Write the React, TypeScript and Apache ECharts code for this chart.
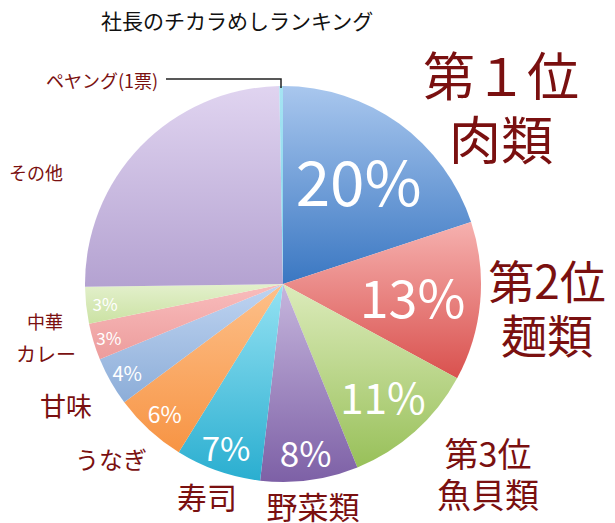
import React, { useEffect, useRef } from "react";
import * as echarts from "echarts";

// ---- data ----
const title = "社長のチカラめしランキング";
const categories = ["肉類", "麺類", "魚貝類", "野菜類", "寿司", "うなぎ", "甘味", "カレー", "中華", "その他", "ペヤング(1票)"];
const shares = [20, 13, 11, 8, 7, 6, 4, 3, 3, 25, 0.3];
const percentShown = [true, true, true, true, true, true, true, true, true, false, false];
const rankLabels = ["第１位", "第2位", "第3位"];

// ---- styles ----
const colorTop = ["#a9c7ee", "#f6b1af", "#dcebbb", "#c6b6dd", "#95e2f3", "#fdc08a", "#bfd4f1", "#f9bdbd", "#e3f0cc", "#e0d4f0", "#a6e4f3"];
const colorBottom = ["#3a77c2", "#d9514e", "#98c059", "#7d60a6", "#2aaed0", "#f79444", "#8cadd8", "#ec9c9c", "#cbe2a3", "#b4a2d1", "#7fd3ea"];
const pctDist = [126, 127, 147, 166, 170, 172, 176, 179, 176];
const pctFont = [62, 52, 42, 35, 33, 23, 20, 17, 17];
const namePos = [
  [501, 105], [547, 306], [488, 473], [313, 505], [207, 496], [111, 458],
  [66, 404], [46, 353], [45, 321], [36, 172], [102, 80],
];
const nameFont = [52, 46, 34, 31, 30, 24, 26, 20, 18, 18, 18];
const nameLineHeight = [64, 54, 41, 34, 34, 28, 30, 24, 22, 22, 22];

const CX = 283;
const CY = 284;
const R = 198;
const FONT = "'Noto Sans CJK JP', 'Noto Sans', sans-serif";
const LABEL_COLOR = "#7a1010";

export default function App() {
  const ref = useRef<HTMLDivElement>(null);

  useEffect(() => {
    if (!ref.current) return;
    const chart = echarts.init(ref.current, undefined, { renderer: "svg" });

    const mainData = categories.map((name, i) => ({
      name,
      value: shares[i],
      itemStyle: {
        color: new echarts.graphic.LinearGradient(0, 0, 0, 1, [
          { offset: 0, color: colorTop[i] },
          { offset: 1, color: colorBottom[i] },
        ]),
      },
      label: { fontSize: nameFont[i], lineHeight: nameLineHeight[i] },
    }));

    const ghostSeries = pctDist.map((d, k) => ({
      type: "pie",
      center: [CX, CY],
      radius: [0, d * 2],
      startAngle: 90,
      clockwise: true,
      silent: true,
      animation: false,
      avoidLabelOverlap: false,
      itemStyle: { color: "rgba(0,0,0,0)" },
      labelLine: { show: false },
      emphasis: { disabled: true },
      data: categories.map((name, i) => ({
        name,
        value: shares[i],
        label: {
          show: i === k && percentShown[i],
          position: "inside",
          formatter: `${shares[i]}%`,
          color: "#ffffff",
          fontSize: pctFont[k],
          fontFamily: FONT,
          fontWeight: "normal",
        },
      })),
    }));

    chart.setOption({
      animation: false,
      title: {
        text: title,
        left: 96,
        top: 4,
        textStyle: { fontSize: 21, fontWeight: "normal", color: "#111", fontFamily: FONT },
      },
      graphic: [
        {
          type: "polyline",
          shape: { points: [[166, 79], [281, 79], [281, 88]] },
          style: { stroke: "#222", lineWidth: 1.5, fill: "none" },
          z: 10,
        },
      ],
      series: [
        {
          type: "pie",
          center: [CX, CY],
          radius: R,
          startAngle: 90,
          clockwise: true,
          avoidLabelOverlap: false,
          emphasis: { disabled: true },
          labelLine: { show: false },
          label: {
            show: true,
            position: "outside",
            color: LABEL_COLOR,
            fontFamily: FONT,
            fontWeight: "normal",
            formatter: (p: any) =>
              p.dataIndex < rankLabels.length ? `${rankLabels[p.dataIndex]}\n${p.name}` : p.name,
          },
          labelLayout: (p: any) => {
            const pos = namePos[p.dataIndex];
            return { x: pos[0], y: pos[1], align: "center", verticalAlign: "middle" };
          },
          data: mainData,
        },
        ...ghostSeries,
      ],
    });

    return () => chart.dispose();
  }, []);

  return (
    <div
      ref={ref}
      style={{ position: "fixed", left: 0, top: 0, width: 615, height: 523, background: "#fff" }}
    />
  );
}
